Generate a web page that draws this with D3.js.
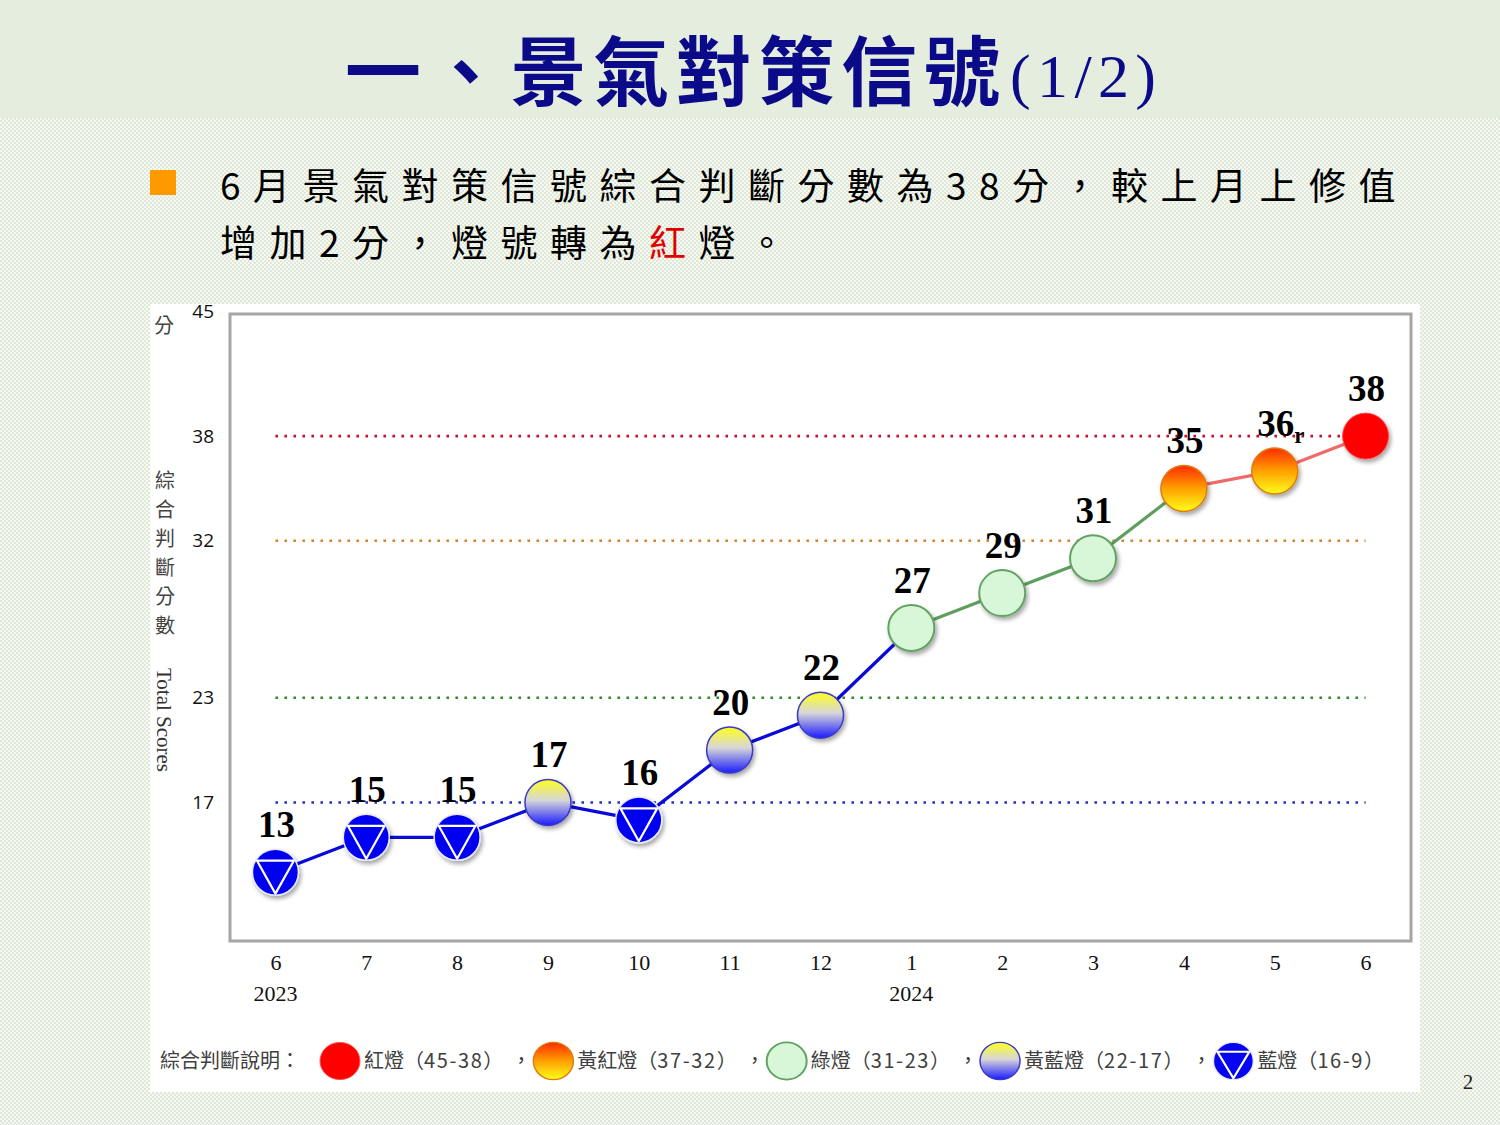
<!DOCTYPE html>
<html>
<head>
<meta charset="utf-8">
<script src="https://cdn.jsdelivr.net/npm/d3@7"></script>
<style>
  html, body { margin: 0; padding: 0; background: #fff; }
  svg { display: block; }
</style>
</head>
<body>
<div id="chart"></div>
<script>
// --- DATA ---
const months = ['6', '7', '8', '9', '10', '11', '12', '1', '2', '3', '4', '5', '6'];
const years = ['2023', '', '', '', '', '', '', '2024', '', '', '', '', ''];
const scores = [13, 15, 15, 17, 16, 20, 22, 27, 29, 31, 35, 36, 38];
const revised = [false, false, false, false, false, false, false, false, false, false, false, true, false];
const tickValues = [45, 38, 32, 23, 17];
const thresholds = [38, 32, 23, 17];
const thresholdColors = ['#c8102e', '#d9822b', '#2e8b2e', '#2233c4'];

const legendNames = ['紅燈', '黃紅燈', '綠燈', '黃藍燈', '藍燈'];
const legendRanges = ['45-38', '37-32', '31-23', '22-17', '16-9'];
const legendKinds = ['red', 'yellowRed', 'green', 'yellowBlue', 'blue'];

// 燈號分類 (依圖例區間)
function signalOf(v) {
    if (v >= 38) return 'red';
    if (v >= 32) return 'yellowRed';
    if (v >= 23) return 'green';
    if (v >= 17) return 'yellowBlue';
    return 'blue';
}
const lineColor = { blue: '#0a0ad8', yellowBlue: '#0a0ad8', green: '#5e9e5e', yellowRed: '#f06a6a', red: '#f06a6a' };

// --- SVG ---
const W = 1500, H = 1125;
const svg = d3.select('#chart').append('svg').attr('width', W).attr('height', H);
const defs = svg.append('defs');

// 背景花紋
const pat = defs.append('pattern').attr('id', 'bgPat').attr('width', 4).attr('height', 4)
    .attr('patternUnits', 'userSpaceOnUse');
pat.append('rect').attr('width', 4).attr('height', 4).attr('fill', '#f7f9f4');
pat.append('rect').attr('width', 2).attr('height', 2).attr('fill', '#dfe7d7');
pat.append('rect').attr('x', 2).attr('y', 2).attr('width', 2).attr('height', 2).attr('fill', '#dfe7d7');

const gYB = defs.append('linearGradient').attr('id', 'gYB').attr('x1', 0).attr('y1', 0).attr('x2', 0).attr('y2', 1);
gYB.append('stop').attr('offset', '0%').attr('stop-color', '#ffff1a');
gYB.append('stop').attr('offset', '45%').attr('stop-color', '#d6d6d8');
gYB.append('stop').attr('offset', '100%').attr('stop-color', '#1a1aff');

const gYR = defs.append('linearGradient').attr('id', 'gYR').attr('x1', 0).attr('y1', 0).attr('x2', 0).attr('y2', 1);
gYR.append('stop').attr('offset', '0%').attr('stop-color', '#ff2a00');
gYR.append('stop').attr('offset', '50%').attr('stop-color', '#ffa000');
gYR.append('stop').attr('offset', '100%').attr('stop-color', '#ffff1a');

const shadow = defs.append('filter').attr('id', 'shadow').attr('x', '-40%').attr('y', '-40%')
    .attr('width', '180%').attr('height', '180%');
shadow.append('feDropShadow').attr('dx', 2).attr('dy', 3).attr('stdDeviation', 2)
    .attr('flood-color', '#000').attr('flood-opacity', 0.35);

svg.append('rect').attr('width', W).attr('height', H).attr('fill', 'url(#bgPat)');
svg.append('rect').attr('width', W).attr('height', 118).attr('fill', '#e5eede');

// 標題
const title = svg.append('text').attr('y', 100).attr('fill', '#0b0b8a');
title.append('tspan').attr('x', 345).attr('font-family', '"Noto Sans CJK TC"').attr('font-weight', 700)
    .attr('font-size', 76).attr('textLength', 655).attr('lengthAdjust', 'spacing').text('一、景氣對策信號');
svg.append('text').attr('x', 1010).attr('y', 97).attr('fill', '#0b0b8a')
    .attr('font-family', '"Liberation Serif"').attr('font-size', 62)
    .attr('textLength', 146).attr('lengthAdjust', 'spacing').text('(1/2)');

// 說明文字
svg.append('rect').attr('x', 150).attr('y', 170).attr('width', 26).attr('height', 25).attr('fill', '#ff9900');
const body = svg.append('g').attr('font-family', '"Noto Sans CJK TC"').attr('font-size', 37)
    .style('letter-spacing', '12.5px').attr('fill', '#000');
body.append('text').attr('x', 220).attr('y', 200).text('6月景氣對策信號綜合判斷分數為38分，較上月上修值');
const l2 = body.append('text').attr('x', 220).attr('y', 257);
l2.append('tspan').text('增加2分，燈號轉為');
l2.append('tspan').attr('fill', '#e00000').text('紅');
l2.append('tspan').text('燈。');

// 圖表白底
svg.append('rect').attr('x', 150).attr('y', 304).attr('width', 1270).attr('height', 788).attr('fill', '#fff');

// --- SCALES ---
const x = d3.scalePoint().domain(d3.range(months.length)).range([230, 1411]).padding(0.5);
const y = d3.scaleLinear().domain([9, 45]).range([942, 314]);

svg.append('rect').attr('x', 230).attr('y', y(45)).attr('width', 1181).attr('height', y(9) - y(45) - 1)
    .attr('fill', '#fff').attr('stroke', '#a6a6a6').attr('stroke-width', 3);

// 門檻虛線
svg.append('g').selectAll('line').data(thresholds).join('line')
    .attr('x1', x(0)).attr('x2', x(months.length - 1))
    .attr('y1', d => y(d)).attr('y2', d => y(d))
    .attr('stroke', (d, i) => thresholdColors[i]).attr('stroke-width', 2.6)
    .attr('stroke-dasharray', '2.6,6.4');

// y 軸
const yAxis = svg.append('g').attr('transform', 'translate(230,0)')
    .call(d3.axisLeft(y).tickValues(tickValues).tickSize(0).tickPadding(16));
yAxis.select('.domain').remove();
yAxis.selectAll('text').attr('font-family', '"Open Sans"').attr('font-size', 19).attr('fill', '#111');
yAxis.selectAll('.tick').filter(d => d === 45).select('text').attr('dy', '0.2em');

// x 軸
const xAxis = svg.append('g').attr('transform', `translate(0,${y(9)})`)
    .call(d3.axisBottom(x).tickSize(0).tickPadding(12).tickFormat(i => months[i]));
xAxis.select('.domain').remove();
xAxis.selectAll('text').attr('font-family', '"Liberation Serif"').attr('font-size', 22).attr('fill', '#111');
svg.append('g').selectAll('text').data(years.map((t, i) => ({ t, i })).filter(d => d.t)).join('text')
    .attr('x', d => x(d.i)).attr('y', 1001).attr('text-anchor', 'middle')
    .attr('font-family', '"Liberation Serif"').attr('font-size', 22).attr('fill', '#111')
    .text(d => d.t);

// 軸標題
const axT = svg.append('g').attr('font-family', '"Noto Sans CJK TC"').attr('font-size', 20).attr('fill', '#444')
    .attr('text-anchor', 'middle');
axT.append('text').attr('x', 164).attr('y', 333).text('分');
'綜合判斷分數'.split('').forEach((c, i) => {
    axT.append('text').attr('x', 165).attr('y', 488 + i * 29).text(c);
});
svg.append('text').attr('transform', 'translate(157,720) rotate(90)').attr('text-anchor', 'middle')
    .attr('font-family', '"Liberation Serif"').attr('font-size', 21).attr('fill', '#333').text('Total Scores');

// 連線
const pts = scores.map((v, i) => ({ v, i, kind: signalOf(v) }));
svg.append('g').selectAll('line').data(pts.slice(0, -1)).join('line')
    .attr('x1', d => x(d.i)).attr('y1', d => y(d.v))
    .attr('x2', d => x(d.i + 1)).attr('y2', d => y(scores[d.i + 1]))
    .attr('stroke', d => lineColor[d.kind]).attr('stroke-width', 3.2);

// 燈號
function drawSignal(g, kind, r) {
    if (kind === 'blue') {
        g.append('circle').attr('r', r).attr('fill', '#0505f0').attr('stroke', '#e8e8ff').attr('stroke-width', 1.5);
        g.append('path')
            .attr('d', `M${-0.8 * r},${-0.5 * r}L${0.8 * r},${-0.5 * r}L0,${0.93 * r}Z`)
            .attr('fill', 'none').attr('stroke', '#fff').attr('stroke-width', 2.2).attr('stroke-linejoin', 'round');
    } else if (kind === 'yellowBlue') {
        g.append('circle').attr('r', r).attr('fill', 'url(#gYB)').attr('stroke', '#3a3ac8').attr('stroke-width', 1.5);
    } else if (kind === 'green') {
        g.append('circle').attr('r', r).attr('fill', '#d8f6d8').attr('stroke', '#62a262').attr('stroke-width', 2);
    } else if (kind === 'yellowRed') {
        g.append('circle').attr('r', r).attr('fill', 'url(#gYR)').attr('stroke', '#e07a10').attr('stroke-width', 1.5);
    } else {
        g.append('circle').attr('r', r).attr('fill', '#ff0000').attr('stroke', '#ff5050').attr('stroke-width', 1);
    }
}

const marks = svg.append('g').selectAll('g').data(pts).join('g')
    .attr('transform', d => `translate(${x(d.i)},${y(d.v)})`)
    .attr('filter', 'url(#shadow)');
marks.each(function (d) { drawSignal(d3.select(this), d.kind, 23); });

// 數值標籤
const lab = svg.append('g').attr('font-family', '"Liberation Serif"').attr('font-weight', 700)
    .attr('font-size', 37).attr('fill', '#000');
pts.forEach(d => {
    const t = lab.append('text').attr('x', x(d.i) + 1).attr('y', y(d.v) - 35)
        .attr('text-anchor', 'middle').text(d.v);
    if (revised[d.i]) {
        const w = t.node().getComputedTextLength();
        lab.append('text').attr('x', x(d.i) + 1 + w / 2).attr('y', y(d.v) - 28)
            .attr('font-size', 23).text('r');
    }
});

// 圖例
const leg = svg.append('g').attr('font-family', '"Noto Sans CJK TC"').attr('font-size', 20).attr('fill', '#404040');
const legY = 1061;
const head = leg.append('text').attr('x', 160).attr('y', legY + 7).text('綜合判斷說明：');
let cx = 160 + head.node().getComputedTextLength() + 40;
legendNames.forEach((name, i) => {
    const g = leg.append('g').attr('transform', `translate(${cx},${legY}) scale(1,0.93)`);
    drawSignal(g, legendKinds[i], 20);
    const t = leg.append('text').attr('x', cx + 24).attr('y', legY + 7);
    t.append('tspan').text(name + '（');
    t.append('tspan').style('letter-spacing', '1.6px').text(legendRanges[i]);
    t.append('tspan').text('）');
    const end = cx + 24 + t.node().getComputedTextLength();
    if (i < legendNames.length - 1) {
        leg.append('text').attr('x', end + 8).attr('y', legY + 7).text('，');
    }
    cx = end + 50;
});

// 頁碼
svg.append('text').attr('x', 1468).attr('y', 1089).attr('text-anchor', 'middle')
    .attr('font-family', '"Liberation Serif"').attr('font-size', 21).attr('fill', '#222').text('2');
</script>
</body>
</html>
